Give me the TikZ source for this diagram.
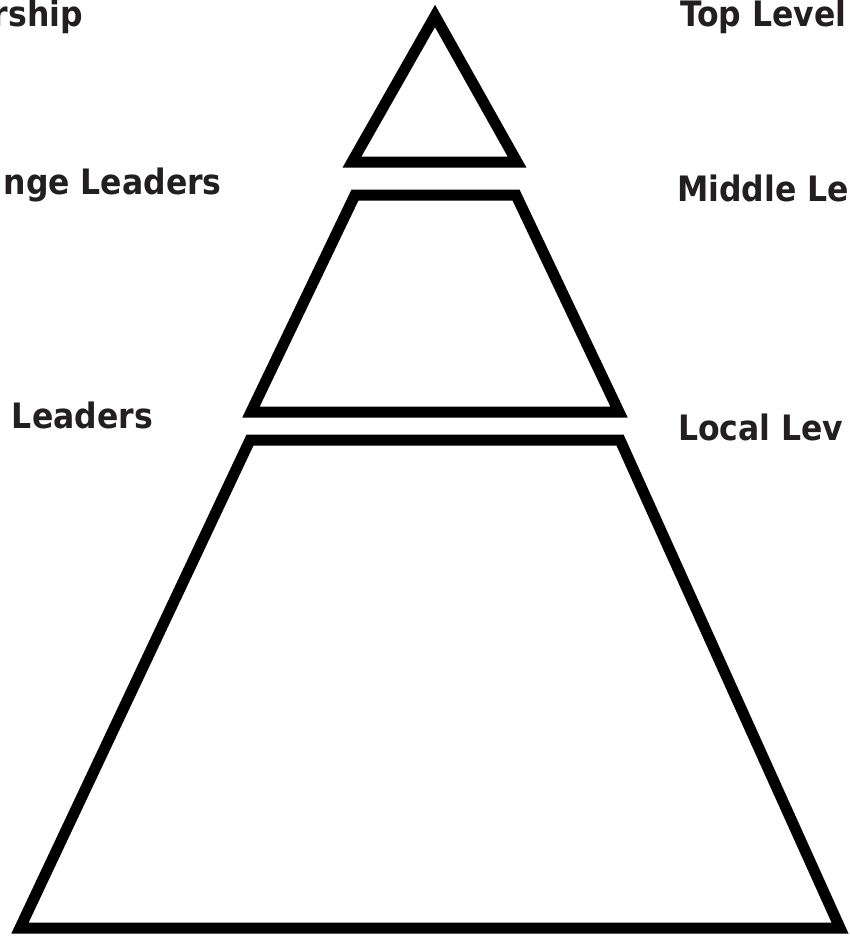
\documentclass[tikz,border=0pt]{standalone}
\usepackage{fontspec}
\setmainfont{DejaVu Sans Condensed}
\begin{document}
\begin{tikzpicture}[x=1pt,y=-1pt,
  tier/.style={draw=black,line width=11pt,line join=miter,fill=white},
  lbl/.style={font=\fontsize{35}{40}\selectfont\bfseries,inner sep=0pt,text={rgb,255:red,35;green,31;blue,32}}]
\useasboundingbox (0,0) rectangle (850,937);
\clip (0,0) rectangle (850,937);
\fill[white] (0,0) rectangle (850,937);
% tiers
\draw[tier] (435,16) -- (517,162) -- (352,162) -- cycle;
\draw[tier] (355,195) -- (516,195) -- (619,412) -- (251,412) -- cycle;
\draw[tier] (250,440) -- (620,440) -- (840,928) -- (20,928) -- cycle;
% labels left
\node[lbl,anchor=base east] (l1) at (83,26) {rship};
\node[lbl,anchor=base east] (l2) at (222,194) {nge Leaders};
\node[lbl,anchor=base east] (l3) at (153,428) {Leaders};
% labels right
\node[lbl,anchor=base west] (r1) at (680,26) {Top Level};
\node[lbl,anchor=base west] (r2) at (677,201) {Middle Le};
\node[lbl,anchor=base west] (r3) at (678,440) {Local Lev};
\end{tikzpicture}
\end{document}
